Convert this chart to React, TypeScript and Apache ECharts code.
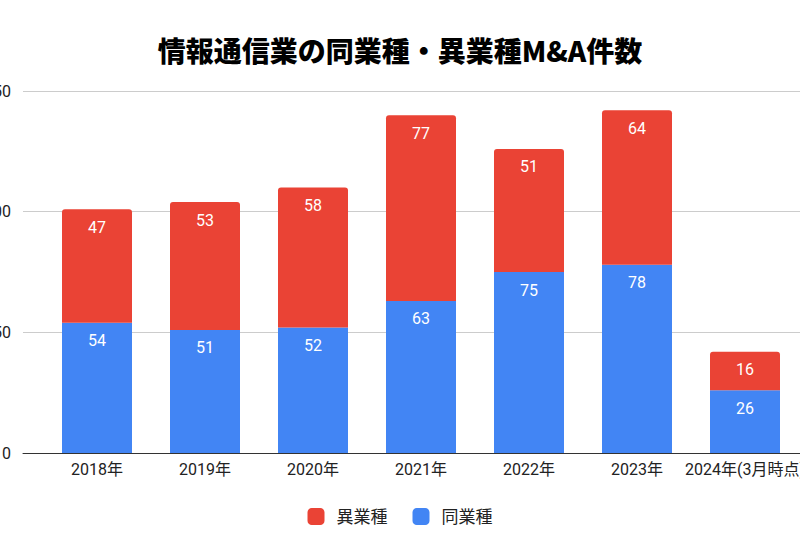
import React, { useEffect, useRef } from "react";
import * as echarts from "echarts";

const categories = ["2018年", "2019年", "2020年", "2021年", "2022年", "2023年", "2024年(3月時点)"];
const sameIndustry = [54, 51, 52, 63, 75, 78, 26];
const diffIndustry = [47, 53, 58, 77, 51, 64, 16];
const yTicks = { min: 0, max: 150, interval: 50 };

const FONT = "Roboto, 'Noto Sans CJK JP', sans-serif";

export default function App() {
  const ref = useRef<HTMLDivElement>(null);
  useEffect(() => {
    if (!ref.current) return;
    const chart = echarts.init(ref.current, null, { renderer: "svg" });
    const labelStyle = {
      show: true,
      position: "insideTop" as const,
      distance: 10,
      color: "#ffffff",
      fontSize: 16,
      fontFamily: FONT,
    };
    chart.setOption({
      animation: false,
      textStyle: { fontFamily: FONT },
      title: {
        text: "情報通信業の同業種・異業種M&A件数",
        left: "center",
        top: 31,
        textStyle: {
          fontFamily: "'Noto Sans CJK JP', sans-serif",
          fontWeight: 900,
          fontSize: 28,
          color: "#000000",
        },
      },
      legend: {
        top: 503,
        left: "center",
        itemWidth: 17,
        itemHeight: 17,
        itemGap: 25,
        icon: "roundRect",
        data: ["異業種", "同業種"],
        textStyle: { fontSize: 17, color: "#222222", fontFamily: FONT, padding: [0, 0, 0, 7] },
      },
      grid: [
        { left: 23, right: 0, top: 91, height: 362, outerBoundsMode: "none", containLabel: false },
        { left: 43, width: 756, top: 91, height: 362, outerBoundsMode: "none", containLabel: false },
      ],
      xAxis: [
        {
          type: "value",
          gridIndex: 0,
          min: 0,
          max: 1,
          axisLabel: { show: false },
          axisTick: { show: false },
          splitLine: { show: false },
          axisLine: { show: true, lineStyle: { color: "#333333", width: 1 } },
        },
        {
          type: "category",
          gridIndex: 1,
          data: categories,
          axisLine: { show: false },
          axisTick: { show: false },
          axisLabel: { color: "#222222", fontSize: 16, margin: 8, interval: 0, fontFamily: FONT },
        },
      ],
      yAxis: [
        {
          type: "value",
          gridIndex: 0,
          min: yTicks.min,
          max: yTicks.max,
          interval: yTicks.interval,
          axisLabel: { color: "#222222", fontSize: 16, margin: 12, fontFamily: FONT },
          axisLine: { show: false },
          axisTick: { show: false },
          splitLine: { lineStyle: { color: "#cccccc", width: 1 } },
        },
        {
          type: "value",
          gridIndex: 1,
          min: yTicks.min,
          max: yTicks.max,
          interval: yTicks.interval,
          axisLabel: { show: false },
          axisLine: { show: false },
          axisTick: { show: false },
          splitLine: { show: false },
        },
      ],
      series: [
        {
          name: "同業種",
          type: "bar",
          stack: "total",
          xAxisIndex: 1,
          yAxisIndex: 1,
          barWidth: 70,
          data: sameIndustry,
          itemStyle: { color: "#4285F4" },
          label: labelStyle,
        },
        {
          name: "異業種",
          type: "bar",
          stack: "total",
          xAxisIndex: 1,
          yAxisIndex: 1,
          barWidth: 70,
          data: diffIndustry,
          itemStyle: { color: "#EA4335", borderRadius: [3, 3, 0, 0] },
          label: labelStyle,
        },
      ],
    });
    return () => chart.dispose();
  }, []);
  return <div ref={ref} style={{ width: 800, height: 550, position: "absolute", left: 0, top: 0 }} />;
}
